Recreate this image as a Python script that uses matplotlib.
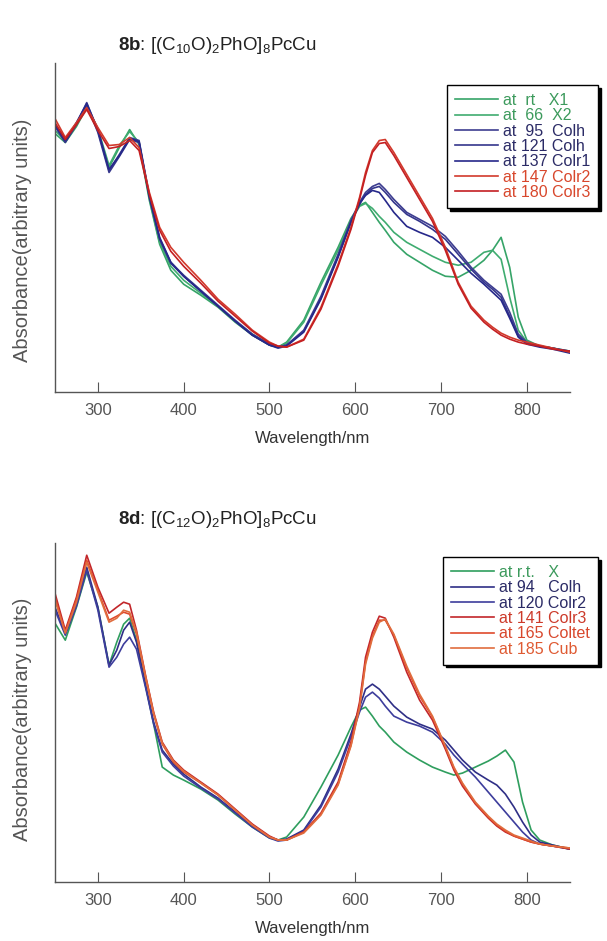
import matplotlib
matplotlib.use("Agg")
import matplotlib.pyplot as plt

plt.rcParams['font.family'] = ['Liberation Sans', 'DejaVu Sans']
plt.rcParams['mathtext.fontset'] = 'custom'
plt.rcParams['mathtext.rm'] = 'Liberation Sans'
plt.rcParams['mathtext.bf'] = 'Liberation Sans:bold'
plt.rcParams['mathtext.it'] = 'Liberation Sans:italic'

# ---- panel 8b: [(C10O)2PhO]8PcCu ----
wl_b = [250, 262, 275, 287, 300, 313, 325, 337, 348, 360, 372, 385, 400, 420,
        440, 460, 480, 500, 510, 520, 540, 560, 580, 595, 605, 612, 620, 628,
        635, 645, 660, 675, 690, 705, 720, 735, 750, 760, 770, 780, 790, 800,
        815, 830, 850]
b_rt = [2.59, 2.50, 2.66, 2.85, 2.62, 2.25, 2.45, 2.63, 2.48, 1.92, 1.48, 1.22,
        1.08, 0.97, 0.85, 0.70, 0.57, 0.47, 0.45, 0.50, 0.72, 1.10, 1.45, 1.74,
        1.87, 1.90, 1.80, 1.70, 1.62, 1.50, 1.38, 1.30, 1.22, 1.16, 1.15, 1.22,
        1.32, 1.42, 1.55, 1.25, 0.75, 0.52, 0.46, 0.44, 0.40]
b_66 = [2.62, 2.52, 2.68, 2.86, 2.64, 2.27, 2.47, 2.61, 2.50, 1.94, 1.50, 1.26,
        1.12, 0.99, 0.86, 0.71, 0.58, 0.48, 0.45, 0.49, 0.70, 1.07, 1.42, 1.72,
        1.86, 1.89, 1.84, 1.76, 1.70, 1.60, 1.50, 1.43, 1.36, 1.30, 1.27, 1.30,
        1.40, 1.42, 1.33, 0.95, 0.62, 0.50, 0.46, 0.44, 0.41]
b_95 = [2.67, 2.51, 2.69, 2.90, 2.62, 2.22, 2.38, 2.55, 2.52, 1.97, 1.55, 1.30,
        1.17, 1.02, 0.87, 0.72, 0.58, 0.48, 0.45, 0.47, 0.62, 0.96, 1.38, 1.72,
        1.90, 2.00, 2.06, 2.09, 2.03, 1.93, 1.80, 1.73, 1.66, 1.56, 1.41, 1.25,
        1.12, 1.05, 0.98, 0.80, 0.58, 0.50, 0.46, 0.44, 0.40]
b_121 = [2.66, 2.50, 2.68, 2.88, 2.60, 2.20, 2.36, 2.53, 2.50, 1.95, 1.53, 1.29,
         1.16, 1.01, 0.86, 0.71, 0.57, 0.47, 0.45, 0.47, 0.61, 0.94, 1.36, 1.70,
         1.88, 1.98, 2.04, 2.06, 2.00, 1.90, 1.78, 1.71, 1.63, 1.53, 1.38, 1.23,
         1.10, 1.03, 0.95, 0.76, 0.56, 0.49, 0.46, 0.44, 0.41]
b_137 = [2.68, 2.52, 2.70, 2.89, 2.63, 2.23, 2.37, 2.54, 2.51, 1.96, 1.54, 1.30,
         1.16, 1.01, 0.86, 0.71, 0.57, 0.47, 0.44, 0.46, 0.60, 0.93, 1.35, 1.70,
         1.89, 1.97, 2.02, 2.00, 1.92, 1.80, 1.66, 1.60, 1.55, 1.45, 1.32, 1.19,
         1.08, 1.00, 0.92, 0.74, 0.55, 0.48, 0.45, 0.43, 0.39]
b_147 = [2.74, 2.55, 2.70, 2.85, 2.65, 2.47, 2.48, 2.55, 2.45, 2.00, 1.65, 1.45,
         1.30, 1.12, 0.93, 0.78, 0.62, 0.50, 0.46, 0.45, 0.53, 0.85, 1.28, 1.65,
         1.95, 2.20, 2.42, 2.52, 2.53, 2.40, 2.18, 1.96, 1.74, 1.45, 1.10, 0.86,
         0.72, 0.65, 0.59, 0.55, 0.52, 0.50, 0.47, 0.44, 0.40]
b_180 = [2.70, 2.53, 2.68, 2.83, 2.62, 2.44, 2.46, 2.52, 2.42, 1.98, 1.62, 1.41,
         1.26, 1.09, 0.91, 0.76, 0.61, 0.49, 0.46, 0.45, 0.52, 0.83, 1.26, 1.63,
         1.93, 2.17, 2.40, 2.49, 2.50, 2.37, 2.15, 1.93, 1.71, 1.42, 1.08, 0.84,
         0.70, 0.63, 0.57, 0.53, 0.50, 0.48, 0.46, 0.43, 0.41]
labels_b = ["at  rt   X1", "at  66  X2", "at  95  Colh", "at 121 Colh",
            "at 137 Colr1", "at 147 Colr2", "at 180 Colr3"]

# ---- panel 8d: [(C12O)2PhO]8PcCu ----
wl_d = [250, 262, 275, 287, 300, 313, 322, 330, 337, 345, 356, 365, 375, 388,
        400, 420, 440, 460, 480, 500, 510, 520, 540, 560, 580, 595, 605, 612,
        620, 628, 635, 645, 660, 675, 690, 705, 715, 725, 740, 755, 765, 775,
        785, 795, 805, 815, 830, 850]
d_rt = [2.59, 2.42, 2.75, 3.10, 2.75, 2.17, 2.40, 2.58, 2.64, 2.42, 1.95, 1.58,
        1.15, 1.07, 1.02, 0.93, 0.82, 0.68, 0.55, 0.44, 0.42, 0.45, 0.65, 0.95,
        1.27, 1.55, 1.72, 1.75, 1.66, 1.56, 1.50, 1.40, 1.30, 1.22, 1.15, 1.10,
        1.07, 1.09, 1.15, 1.21, 1.26, 1.32, 1.20, 0.80, 0.52, 0.42, 0.37, 0.33]
d_94 = [2.75, 2.49, 2.78, 3.15, 2.75, 2.17, 2.32, 2.52, 2.60, 2.40, 1.95, 1.60,
        1.32, 1.18, 1.08, 0.95, 0.84, 0.70, 0.56, 0.45, 0.42, 0.43, 0.52, 0.77,
        1.13, 1.48, 1.75, 1.93, 1.98, 1.93, 1.86, 1.76, 1.65, 1.58, 1.53, 1.42,
        1.32, 1.22, 1.10, 1.02, 0.97, 0.88, 0.75, 0.60, 0.47, 0.40, 0.37, 0.33]
d_120 = [2.72, 2.47, 2.76, 3.12, 2.72, 2.15, 2.25, 2.38, 2.45, 2.33, 1.93, 1.58,
         1.30, 1.16, 1.06, 0.94, 0.83, 0.69, 0.55, 0.44, 0.41, 0.42, 0.51, 0.75,
         1.10, 1.45, 1.70, 1.85, 1.90, 1.84, 1.76, 1.66, 1.60, 1.56, 1.50, 1.38,
         1.27, 1.18, 1.05, 0.90, 0.80, 0.70, 0.60, 0.50, 0.42, 0.38, 0.36, 0.33]
d_141 = [2.89, 2.52, 2.85, 3.27, 2.95, 2.69, 2.75, 2.80, 2.78, 2.52, 2.05, 1.70,
         1.40, 1.22, 1.12, 1.00, 0.88, 0.73, 0.58, 0.46, 0.42, 0.42, 0.50, 0.69,
         1.00, 1.40, 1.80, 2.25, 2.50, 2.66, 2.64, 2.45, 2.10, 1.82, 1.62, 1.33,
         1.12, 0.96, 0.78, 0.64, 0.56, 0.50, 0.46, 0.43, 0.40, 0.38, 0.36, 0.33]
d_165 = [2.85, 2.50, 2.83, 3.22, 2.92, 2.62, 2.66, 2.70, 2.68, 2.48, 2.03, 1.68,
         1.38, 1.20, 1.10, 0.99, 0.87, 0.72, 0.57, 0.45, 0.42, 0.42, 0.50, 0.68,
         0.98, 1.37, 1.76, 2.20, 2.46, 2.62, 2.62, 2.47, 2.14, 1.86, 1.65, 1.35,
         1.14, 0.98, 0.79, 0.65, 0.57, 0.51, 0.46, 0.43, 0.40, 0.38, 0.36, 0.34]
d_185 = [2.82, 2.49, 2.80, 3.20, 2.90, 2.60, 2.64, 2.72, 2.70, 2.50, 2.04, 1.69,
         1.39, 1.21, 1.11, 0.99, 0.87, 0.72, 0.57, 0.45, 0.42, 0.42, 0.49, 0.67,
         0.97, 1.36, 1.74, 2.18, 2.44, 2.60, 2.63, 2.48, 2.16, 1.88, 1.66, 1.36,
         1.15, 0.99, 0.80, 0.66, 0.58, 0.52, 0.47, 0.44, 0.41, 0.38, 0.36, 0.34]
labels_d = ["at r.t.   X", "at 94   Colh", "at 120 Colr2", "at 141 Colr3",
            "at 165 Coltet", "at 185 Cub"]

xticks = [300, 400, 500, 600, 700, 800]

col_b = ['#36a468', '#3fac70', '#3d3d90', '#35368c', '#26288a', '#d23a2c', '#c41f22']
txt_b = ['#3c9a5c', '#3c9a5c', '#2b2b66', '#2b2b66', '#2b2b66', '#d8472c', '#d8472c']
col_d = ['#2f9e5e', '#2f2f86', '#3d3d9c', '#c2262a', '#df4a2c', '#e06d3e']
txt_d = ['#3c9a5c', '#2b2b66', '#2b2b66', '#cc3a2a', '#d8472c', '#df5a32']


def draw_panel(ax, wl, series, labels, colors, tcolors, ymax, legend_top, ylab_y):
    for ys, lab, c in zip(series, labels, colors):
        ax.plot(wl, ys, color=c, lw=1.2, label=lab)
    ax.set_xlim(250, 850)
    ax.set_ylim(0, ymax)
    ax.set_xticks(xticks)
    ax.set_yticks([])
    for s in ['top', 'right']:
        ax.spines[s].set_visible(False)
    for s in ['left', 'bottom']:
        ax.spines[s].set_color('#555555')
        ax.spines[s].set_linewidth(1.0)
    ax.tick_params(axis='x', direction='in', length=7, color='#555555',
                   labelsize=12, labelcolor='#555555', pad=8)
    ax.set_xlabel("Wavelength/nm", fontsize=12, color='#333333', labelpad=9)
    ax.set_ylabel("Absorbance(arbitrary units)", fontsize=14.5, color='#555555')
    ax.yaxis.set_label_coords(-0.044, ylab_y)
    leg = ax.legend(loc='upper right', bbox_to_anchor=(598 / 607, legend_top),
                    bbox_transform=fig.transFigure, fontsize=11.5, frameon=True,
                    fancybox=False, edgecolor='black', handlelength=2.7,
                    handletextpad=0.3, labelspacing=0.02, borderpad=0.5,
                    borderaxespad=0, shadow={'color': 'black', 'alpha': 1.0})
    leg.get_frame().set_linewidth(1.0)
    for t, c in zip(leg.get_texts(), tcolors):
        t.set_color(c)


fig = plt.figure(figsize=(6.07, 9.41), dpi=100)
ax1 = fig.add_axes([0.0906, 0.5834, 0.848, 0.350])
ax2 = fig.add_axes([0.0906, 0.0627, 0.848, 0.360])

draw_panel(ax1, wl_b, [b_rt, b_66, b_95, b_121, b_137, b_147, b_180],
           labels_b, col_b, txt_b, 3.30, 1 - 85 / 941, 0.46)
draw_panel(ax2, wl_d, [d_rt, d_94, d_120, d_141, d_165, d_185],
           labels_d, col_d, txt_d, 3.39, 1 - 557 / 941, 0.48)

fig.text(118 / 607, 1 - 45 / 941,
         r"$\mathbf{8b}$: [(C$_{10}$O)$_2$PhO]$_8$PcCu", fontsize=13.5,
         ha='left', va='center', color='#222222')
fig.text(118 / 607, 1 - 519 / 941,
         r"$\mathbf{8d}$: [(C$_{12}$O)$_2$PhO]$_8$PcCu", fontsize=13.5,
         ha='left', va='center', color='#222222')

fig.savefig("out.png", dpi=100)
